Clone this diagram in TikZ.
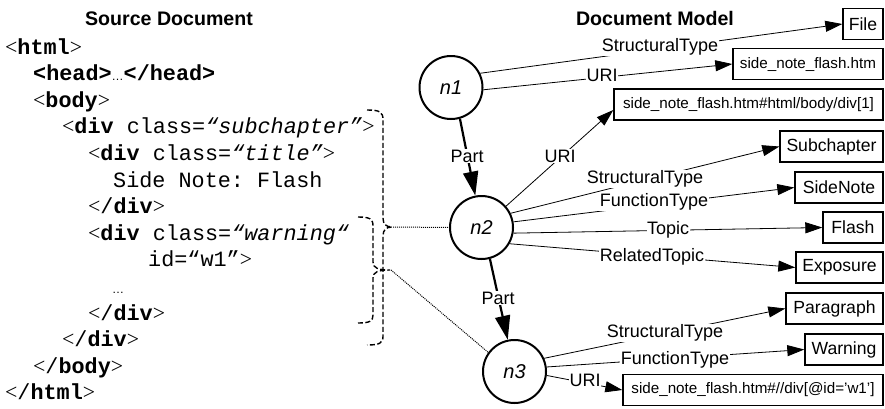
\documentclass[tikz,border=0pt]{standalone}
\usepackage{fontspec}
\setmainfont{Liberation Sans}
\setsansfont{Liberation Sans}
\setmonofont{Liberation Mono}
\newfontfamily\tmsfont{Liberation Serif}
\usetikzlibrary{arrows.meta,calc}
\newcommand{\mylt}{{\tmsfont<}}
\newcommand{\mygt}{{\tmsfont>}}
\newcommand{\myell}{{\sffamily\fontsize{12}{12}\selectfont …}}
\begin{document}
\begin{tikzpicture}[x=1pt,y=-1pt,
 code/.style={anchor=base west, inner sep=0pt, font=\ttfamily\fontsize{21.8}{26}\selectfont},
 ttl/.style={anchor=base, inner sep=0pt, font=\bfseries\fontsize{19.6}{22}\selectfont},
 res/.style={draw, line width=1.4pt, inner sep=0pt, minimum height=31pt, font=\fontsize{17.6}{20}\selectfont},
 url/.style={res, font=\fontsize{15.2}{18}\selectfont},
 ent/.style={circle, draw, line width=2pt, minimum size=63pt, inner sep=0pt, font=\itshape\fontsize{20}{22}\selectfont},
 rel/.style={line width=0.8pt, -{Triangle[length=17pt,width=11pt]}},
 part/.style={line width=2.2pt, -{Triangle[length=24pt,width=15pt]}},
 elab/.style={fill=white, inner sep=0.5pt, font=\fontsize{18}{20}\selectfont},
 brace/.style={line width=1.4pt, dash pattern=on 5pt off 2.5pt},
 link/.style={line width=1pt, densely dotted}
]
\useasboundingbox (0,0) rectangle (885,408);

% titles
\node[ttl] (t1) at (169,25) {Source Document};
\node[ttl] (t2) at (655,25) {Document Model};

% source code
\node[code] (c0) at (5,54) {\mylt\textbf{html}\mygt};
\node[code] (c1) at (33,80.6) {\textbf{<head>}\myell\textbf{</head>}};
\node[code] (c2) at (33,107.2) {\mylt\textbf{body}\mygt};
\node[code] (c3) at (62,133.8) {\mylt\textbf{div} class=\textit{“subchapter”}\mygt};
\node[code] (c4) at (88,160.4) {\mylt\textbf{div} class=\textit{“title”}\mygt};
\node[code] (c5) at (113,187) {Side Note: Flash};
\node[code] (c6) at (88,213.6) {\mylt/\textbf{div}\mygt};
\node[code] (c7) at (88,240.2) {\mylt\textbf{div} class=\textit{“warning“}};
\node[code] (c8) at (148,266.8) {id=“w1”\mygt};
\node[code] (c9) at (112,293.4) {\myell};
\node[code] (c10) at (88,320) {\mylt/\textbf{div}\mygt};
\node[code] (c11) at (62,346.6) {\mylt/\textbf{div}\mygt};
\node[code] (c12) at (33,373.2) {\mylt/\textbf{body}\mygt};
\node[code] (c13) at (5,399.8) {\mylt/\textbf{html}\mygt};

% braces
\draw[brace] (367,110) .. controls (380,110) and (383,112) .. (383,120)
  -- (383,218) .. controls (383,224) and (386,227) .. (392,227)
  .. controls (386,227) and (383,230) .. (383,236)
  -- (383,336) .. controls (383,343) and (380,345) .. (367,345);
\draw[brace] (358,217) .. controls (370,217) and (373,219) .. (373,226)
  -- (373,262) .. controls (373,268) and (378,270) .. (390,270)
  .. controls (378,270) and (373,272) .. (373,278)
  -- (373,315) .. controls (373,321) and (370,323) .. (358,323);
\coordinate (otip) at (393,227);
\coordinate (itip) at (391,270);

% entity nodes
\node[ent] (n1) at (451,87.5) {n1};
\node[ent] (n2) at (481.5,227.5) {n2};
\node[ent] (n3) at (514.5,371.5) {n3};

% resource boxes
\node[res, minimum width=40pt]  (file) at (863,24) {File};
\node[url, minimum width=150pt] (htm)  at (808,64) {side\_note\_flash.htm};
\node[url, minimum width=269pt] (div1) at (748.5,104.5) {side\_note\_flash.htm\#html/body/div[1]};
\node[res, minimum width=103pt] (sub)  at (831.5,146.5) {Subchapter};
\node[res, minimum width=88pt]  (side) at (839,187.5) {SideNote};
\node[res, minimum width=60pt]  (flash) at (853,227.5) {Flash};
\node[res, minimum width=87pt]  (expo) at (839.5,267.5) {Exposure};
\node[res, minimum width=97pt]  (para) at (834.5,308.5) {Paragraph};
\node[res, minimum width=78pt]  (warn) at (844,349.5) {Warning};
\node[url, minimum width=260pt] (w1)   at (753,390) {side\_note\_flash.htm\#//div[@id='w1']};

% dotted links
\draw[link] (otip) -- (n2.west);
\draw[link] (itip) -- (n3.144);

% relations
\draw[rel] (n1.26.6) -- (file.west);
\draw[rel] (n1.-4.5) -- (htm.west);
\draw[rel] (n2.41) -- ($(div1.west)+(0,5.5)$);
\draw[rel] (n2.26) -- (sub.west);
\draw[rel] (n2.10) -- (side.west);
\draw[rel] (n2.-10) -- (flash.west);
\draw[rel] (n2.-30) -- (expo.west);
\draw[rel] (n3.24) -- (para.west);
\draw[rel] (n3.8) -- (warn.west);
\draw[rel] (n3.-7) -- (w1.west);
\draw[part] (n1.-74) -- (n2.101);
\draw[part] (n2.-75) -- (n3.102);

% edge labels
\node[elab] (l1) at (660,47) {StructuralType};
\node[elab] (l2) at (602,75) {URI};
\node[elab] (l3) at (560,156) {URI};
\node[elab] (l4) at (645,179) {StructuralType};
\node[elab] (l5) at (654,202) {FunctionType};
\node[elab] (l6) at (668,230) {Topic};
\node[elab] (l7) at (652,257) {RelatedTopic};
\node[elab] (l8) at (665,333) {StructuralType};
\node[elab] (l9) at (675,360) {FunctionType};
\node[elab] (l10) at (585,380) {URI};
\node[elab] (p1) at (467,156) {Part};
\node[elab] (p2) at (498,298) {Part};
\end{tikzpicture}
\end{document}
